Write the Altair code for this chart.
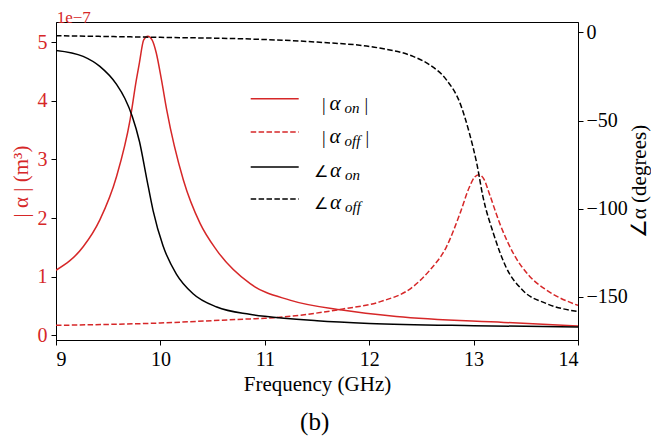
import altair as alt
import pandas as pd

RED = "#d62728"
FONT = "Liberation Serif"

# |alpha_on|  (units of 1e-7 m^3)
on_mag_f = [9.0, 9.26, 9.42, 9.58, 9.71, 9.77, 9.80, 9.84, 9.88, 9.92, 9.96, 10.01,
            10.06, 10.22, 10.38, 10.54, 10.86, 11.24, 11.74, 12.26, 13.29, 14.0]
on_mag_v = [1.11, 1.51, 1.97, 2.71, 3.68, 4.36, 4.66, 5.04, 5.10, 5.04, 4.82, 4.36,
            3.85, 2.65, 1.91, 1.45, 0.88, 0.60, 0.43, 0.32, 0.22, 0.16]

# |alpha_off|  (units of 1e-7 m^3)
off_mag_f = [9.0, 10.0, 10.86, 11.0, 11.75, 12.10, 12.42, 12.58, 12.74, 12.87,
             12.96, 13.01, 13.05, 13.10, 13.15, 13.25, 13.38, 13.54, 13.70, 14.0]
off_mag_v = [0.17, 0.21, 0.28, 0.29, 0.45, 0.57, 0.83, 1.11, 1.51, 2.08,
             2.53, 2.70, 2.74, 2.66, 2.42, 1.91, 1.40, 1.00, 0.77, 0.51]

# angle alpha_on (degrees)
on_ph_f = [9.0, 9.26, 9.42, 9.58, 9.66, 9.73, 9.80, 9.866, 9.93, 10.025, 10.153,
           10.31, 10.54, 10.855, 11.0, 11.5, 12.0, 13.0, 14.0]
on_ph_v = [-10.2, -13.6, -19.3, -29.5, -37.5, -47.5, -62.0, -82.0, -101.0, -121.0, -137.0,
           -148.0, -155.7, -159.8, -161.0, -163.5, -165.0, -166.3, -167.0]

# angle alpha_off (degrees)
off_ph_f = [9.0, 10.0, 10.86, 11.5, 12.10, 12.42, 12.58, 12.74, 12.87, 12.96,
            13.03, 13.09, 13.19, 13.31, 13.47, 13.70, 14.0]
off_ph_v = [-1.9, -2.8, -3.75, -5.5, -8.9, -13.6, -18.4, -26.9, -40.1, -57.2,
            -74.2, -93.2, -114.0, -133.0, -146.2, -153.8, -158.3]

x_ticks = [9, 10, 11, 12, 13, 14]
left_ticks = [0, 1, 2, 3, 4, 5]
right_ticks = [0, -50, -100, -150]

W, H = 522, 318

def df(f, v):
    return pd.DataFrame({"f": f, "v": v})

common = dict(labelFont=FONT, titleFont=FONT, labelFontSize=20, titleFontSize=21,
              titleFontWeight="normal", grid=False, domainColor="black", tickColor="black",
              tickSize=5, tickWidth=1, domainWidth=1)

x_enc = alt.X("f:Q", scale=alt.Scale(domain=[9, 14], nice=False, zero=False),
              axis=alt.Axis(values=x_ticks, format="d", title="Frequency (GHz)",
                            labelPadding=4, labelColor="black", titleColor="black",
                            titleBaseline="alphabetic", titleY=50, **common))

yl = alt.Y("v:Q", scale=alt.Scale(domain=[-0.08, 5.345], nice=False, zero=False),
           axis=alt.Axis(values=left_ticks, format="d", orient="left", title="| α |  (m³)",
                         labelColor=RED, titleColor=RED, labelPadding=4, titleAngle=270,
                         titleBaseline="alphabetic", titleX=-29, **common))

yr = alt.Y("v:Q", scale=alt.Scale(domain=[-174.4, 5.9], nice=False, zero=False),
           axis=alt.Axis(values=right_ticks, format="d", orient="right", title="∠α (degrees)",
                         labelColor="black", titleColor="black", labelPadding=3, titleAngle=270,
                         titleBaseline="alphabetic", titleX=67, **common))

DASH = [5.5, 2.4]

def line(data, y, color, dash=None):
    kw = dict(color=color, strokeWidth=1.5, interpolate="monotone", clip=True)
    if dash:
        kw["strokeDash"] = dash
    return alt.Chart(data).mark_line(**kw).encode(x=x_enc, y=y)

mag = alt.layer(line(df(on_mag_f, on_mag_v), yl, RED),
                line(df(off_mag_f, off_mag_v), yl, RED, DASH))
phase = alt.layer(line(df(on_ph_f, on_ph_v), yr, "black"),
                  line(df(off_ph_f, off_ph_v), yr, "black", DASH))

one = pd.DataFrame({"k": [0]})

def rule(y, color, dash=None):
    kw = dict(color=color, strokeWidth=1.5)
    if dash:
        kw["strokeDash"] = dash
    return alt.Chart(one).mark_rule(**kw).encode(
        x=alt.value(194.7), x2=alt.value(242.7), y=alt.value(y))

def txt(s, x, y, size=21, italic=False, color="black", align="left"):
    return alt.Chart(one).mark_text(
        text=s, font=FONT, fontSize=size, fontStyle="italic" if italic else "normal",
        color=color, align=align, baseline="alphabetic").encode(
        x=alt.value(x), y=alt.value(y))

legend = [
    rule(76.7, RED), rule(110, RED, DASH), rule(145, "black"), rule(177, "black", DASH),
    txt("|", 266, 89, size=18), txt("α", 273.5, 88, italic=True), txt("on", 288.5, 91, size=15, italic=True), txt("|", 308.5, 89, size=18),
    txt("|", 266, 122, size=18), txt("α", 273.5, 121, italic=True), txt("off", 288.5, 123.5, size=15, italic=True), txt("|", 309.5, 122, size=18),
    txt("∠", 257.5, 155, size=16), txt("α", 274, 155, italic=True), txt("on", 289, 157.5, size=15, italic=True),
    txt("∠", 257.5, 187, size=16), txt("α", 274, 187, italic=True), txt("off", 289, 189.5, size=15, italic=True),
]

annot = [
    txt("1e−7", 0.7, 0.5, size=17, color=RED),
    txt("(b)", 258.7, 407.7, size=25, align="center"),
]

chart = alt.layer(mag, phase, *legend, *annot).resolve_scale(y="independent").properties(
    width=W, height=H, autosize="none", background="white",
    padding={"left": 48, "top": 14, "right": 73, "bottom": 96},
).configure_view(stroke="black", strokeWidth=1)

chart.save("out.html", embed_options={"renderer": "svg", "actions": False})
